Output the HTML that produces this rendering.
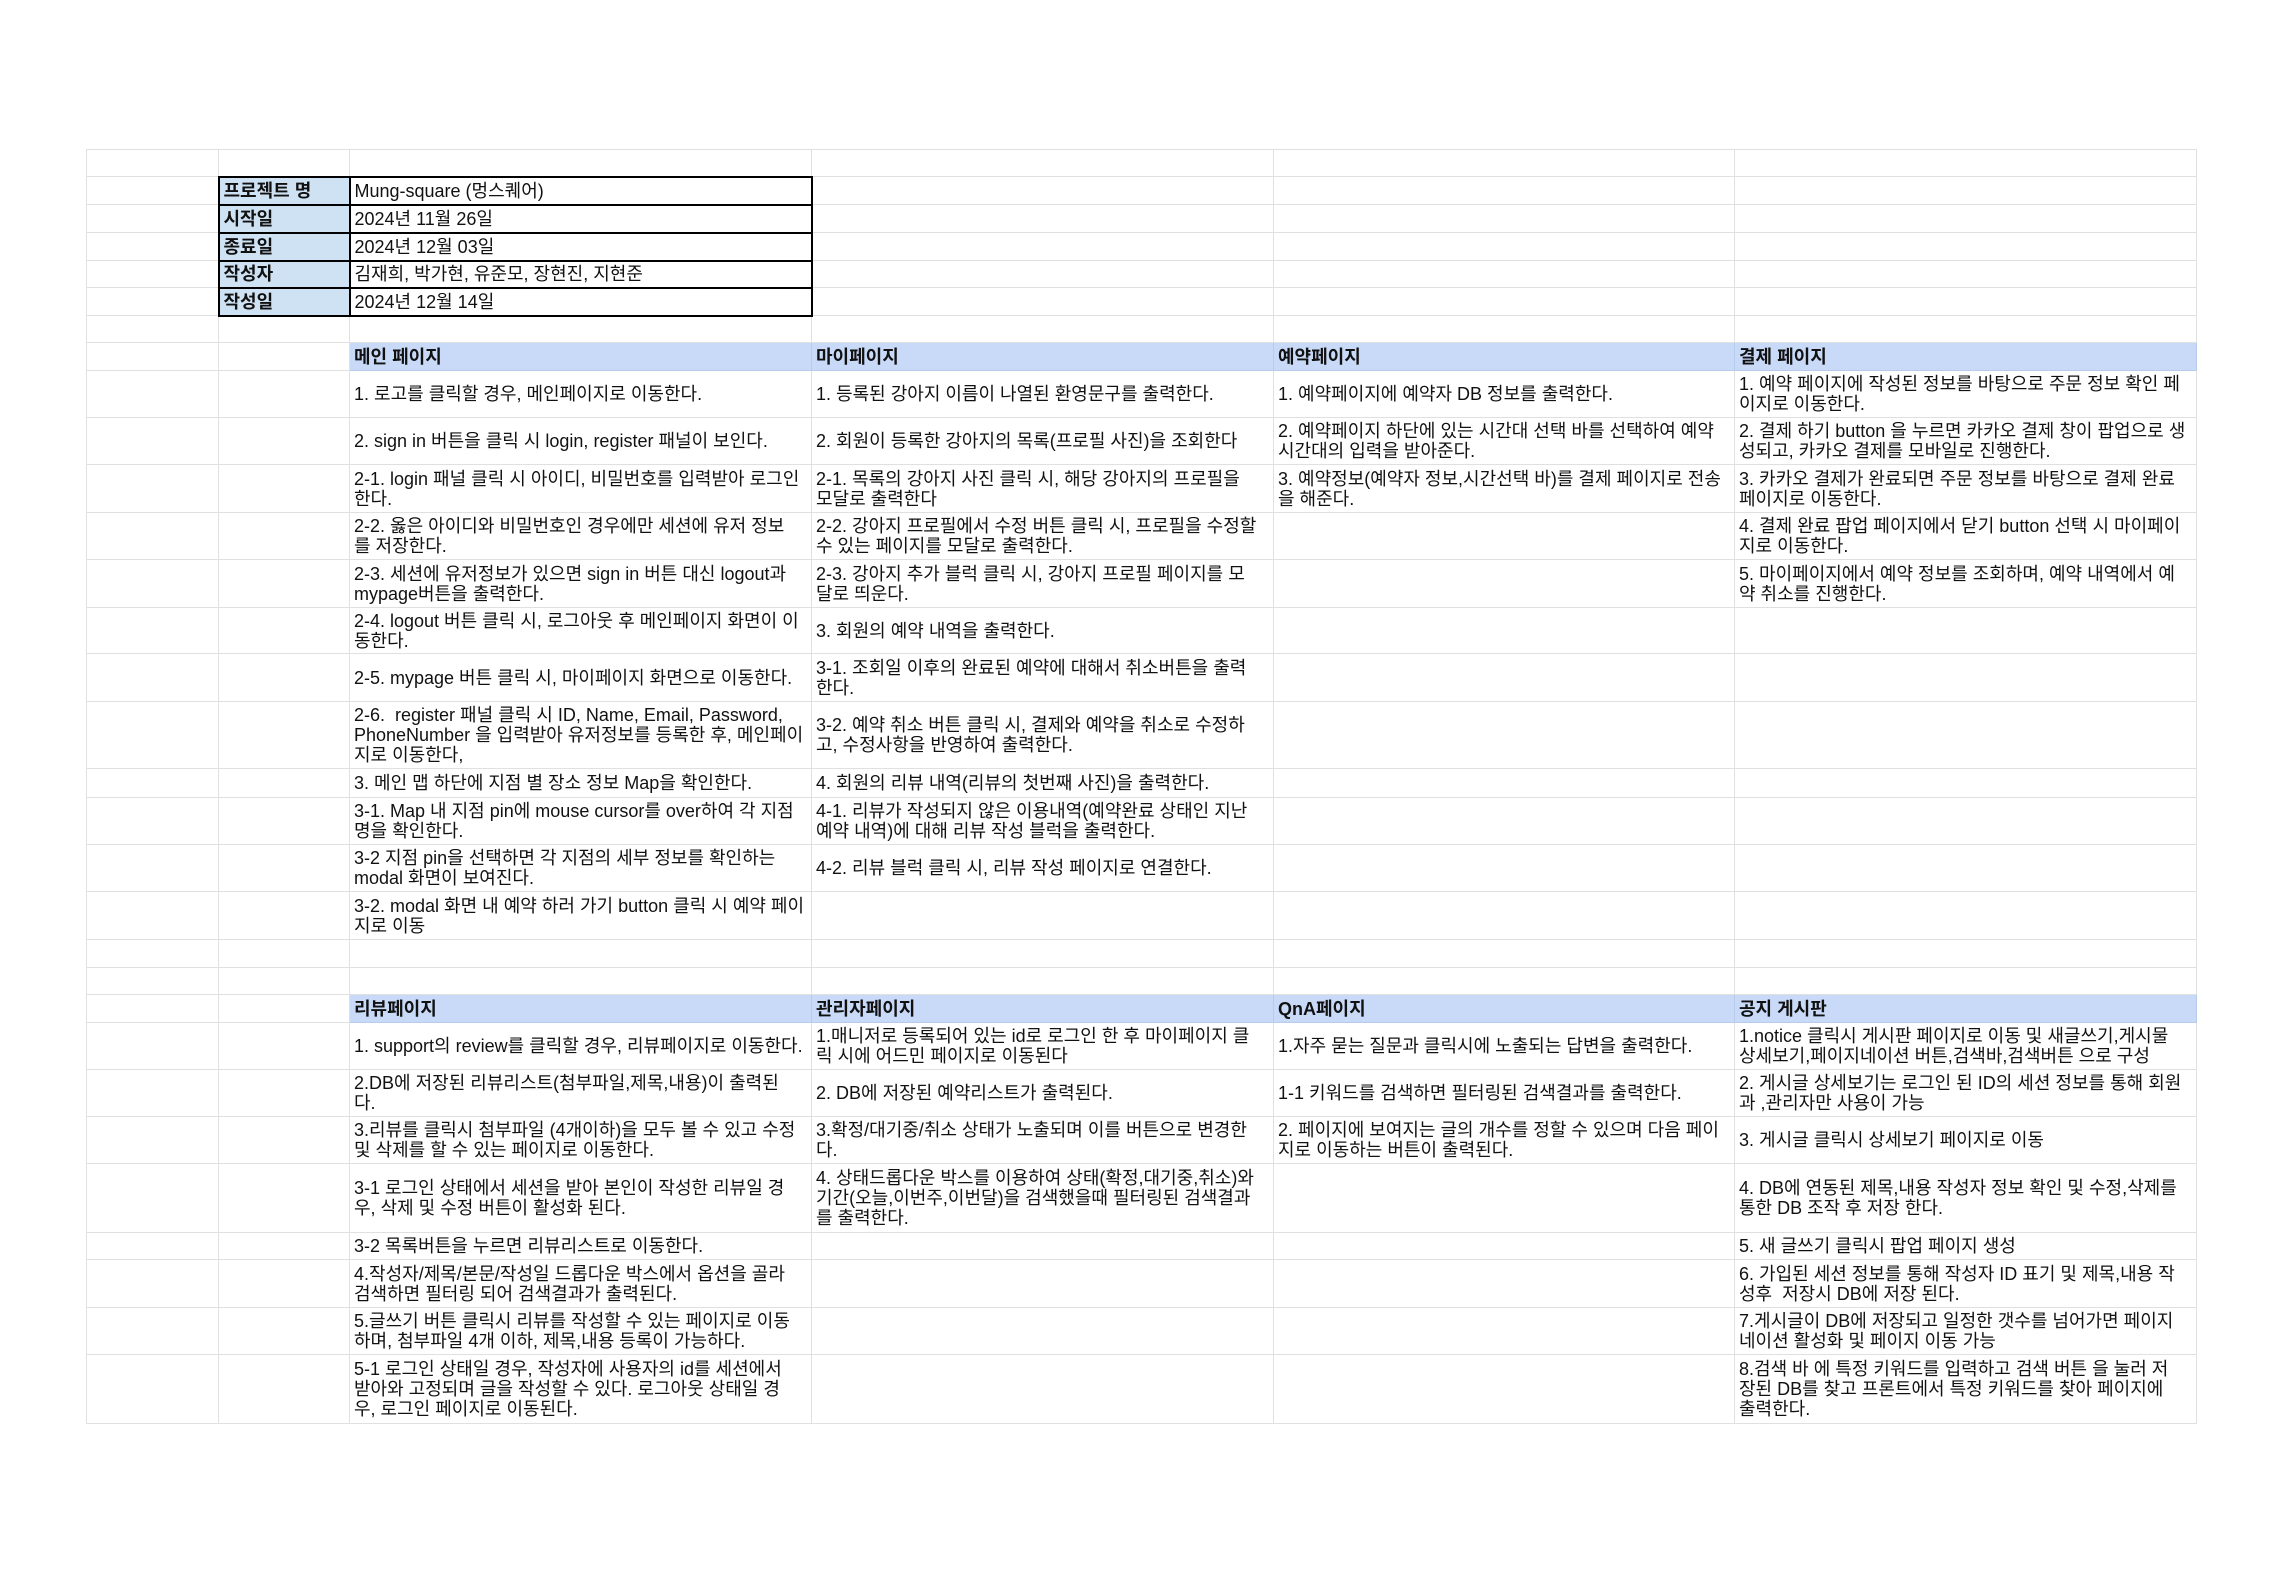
<!DOCTYPE html>
<html><head><meta charset="utf-8">
<style>
html,body{margin:0;padding:0;background:#fff;}
body{width:2284px;height:1573px;position:relative;overflow:hidden;}
table{position:absolute;left:86px;top:149px;width:2110px;border-collapse:collapse;table-layout:fixed;
 font-family:"Liberation Sans","Noto Sans CJK KR",sans-serif;font-size:18px;line-height:20px;color:#111;}
td{border:1px solid #e0e0e0;padding:0 4px;white-space:nowrap;overflow:hidden;vertical-align:middle;box-sizing:border-box;}
td.l{background:#cfe2f3;font-weight:bold;border:2px solid #000;}
td.v{border:2px solid #000;}
td.h{background:#c9daf8;font-weight:bold;border-color:#b7cbea;}
</style></head><body>
<table>
<colgroup><col style="width:132px"><col style="width:131px"><col style="width:462px"><col style="width:462px"><col style="width:461px"><col style="width:462px"></colgroup>
<tr style="height:27px"><td></td><td></td><td></td><td></td><td></td><td></td></tr>
<tr style="height:28px"><td></td><td class="l">프로젝트 명</td><td class="v">Mung-square (멍스퀘어)</td><td></td><td></td><td></td></tr>
<tr style="height:28px"><td></td><td class="l">시작일</td><td class="v">2024년 11월 26일</td><td></td><td></td><td></td></tr>
<tr style="height:28px"><td></td><td class="l">종료일</td><td class="v">2024년 12월 03일</td><td></td><td></td><td></td></tr>
<tr style="height:27px"><td></td><td class="l">작성자</td><td class="v">김재희, 박가현, 유준모, 장현진, 지현준</td><td></td><td></td><td></td></tr>
<tr style="height:28px"><td></td><td class="l">작성일</td><td class="v">2024년 12월 14일</td><td></td><td></td><td></td></tr>
<tr style="height:27px"><td></td><td></td><td></td><td></td><td></td><td></td></tr>
<tr style="height:28px"><td></td><td></td><td class="h">메인 페이지</td><td class="h">마이페이지</td><td class="h">예약페이지</td><td class="h">결제 페이지</td></tr>
<tr style="height:47px"><td></td><td></td><td>1. 로고를 클릭할 경우, 메인페이지로 이동한다.</td><td>1. 등록된 강아지 이름이 나열된 환영문구를 출력한다.</td><td>1. 예약페이지에 예약자 DB 정보를 출력한다.</td><td>1. 예약 페이지에 작성된 정보를 바탕으로 주문 정보 확인 페<br>이지로 이동한다.</td></tr>
<tr style="height:47px"><td></td><td></td><td>2. sign in 버튼을 클릭 시 login, register 패널이 보인다.</td><td>2. 회원이 등록한 강아지의 목록(프로필 사진)을 조회한다</td><td>2. 예약페이지 하단에 있는 시간대 선택 바를 선택하여 예약<br>시간대의 입력을 받아준다.</td><td>2. 결제 하기 button 을 누르면 카카오 결제 창이 팝업으로 생<br>성되고, 카카오 결제를 모바일로 진행한다.</td></tr>
<tr style="height:48px"><td></td><td></td><td>2-1. login 패널 클릭 시 아이디, 비밀번호를 입력받아 로그인<br>한다.</td><td>2-1. 목록의 강아지 사진 클릭 시, 해당 강아지의 프로필을<br>모달로 출력한다</td><td>3. 예약정보(예약자 정보,시간선택 바)를 결제 페이지로 전송<br>을 해준다.</td><td>3. 카카오 결제가 완료되면 주문 정보를 바탕으로 결제 완료<br>페이지로 이동한다.</td></tr>
<tr style="height:47px"><td></td><td></td><td>2-2. 옳은 아이디와 비밀번호인 경우에만 세션에 유저 정보<br>를 저장한다.</td><td>2-2. 강아지 프로필에서 수정 버튼 클릭 시, 프로필을 수정할<br>수 있는 페이지를 모달로 출력한다.</td><td></td><td>4. 결제 완료 팝업 페이지에서 닫기 button 선택 시 마이페이<br>지로 이동한다.</td></tr>
<tr style="height:48px"><td></td><td></td><td>2-3. 세션에 유저정보가 있으면 sign in 버튼 대신 logout과<br>mypage버튼을 출력한다.</td><td>2-3. 강아지 추가 블럭 클릭 시, 강아지 프로필 페이지를 모<br>달로 띄운다.</td><td></td><td>5. 마이페이지에서 예약 정보를 조회하며, 예약 내역에서 예<br>약 취소를 진행한다.</td></tr>
<tr style="height:46px"><td></td><td></td><td>2-4. logout 버튼 클릭 시, 로그아웃 후 메인페이지 화면이 이<br>동한다.</td><td>3. 회원의 예약 내역을 출력한다.</td><td></td><td></td></tr>
<tr style="height:48px"><td></td><td></td><td>2-5. mypage 버튼 클릭 시, 마이페이지 화면으로 이동한다.</td><td>3-1. 조회일 이후의 완료된 예약에 대해서 취소버튼을 출력<br>한다.</td><td></td><td></td></tr>
<tr style="height:67px"><td></td><td></td><td>2-6.&nbsp; register 패널 클릭 시 ID, Name, Email, Password,<br>PhoneNumber 을 입력받아 유저정보를 등록한 후, 메인페이<br>지로 이동한다,</td><td>3-2. 예약 취소 버튼 클릭 시, 결제와 예약을 취소로 수정하<br>고, 수정사항을 반영하여 출력한다.</td><td></td><td></td></tr>
<tr style="height:29px"><td></td><td></td><td>3. 메인 맵 하단에 지점 별 장소 정보 Map을 확인한다.</td><td>4. 회원의 리뷰 내역(리뷰의 첫번째 사진)을 출력한다.</td><td></td><td></td></tr>
<tr style="height:47px"><td></td><td></td><td>3-1. Map 내 지점 pin에 mouse cursor를 over하여 각 지점<br>명을 확인한다.</td><td>4-1. 리뷰가 작성되지 않은 이용내역(예약완료 상태인 지난<br>예약 내역)에 대해 리뷰 작성 블럭을 출력한다.</td><td></td><td></td></tr>
<tr style="height:47px"><td></td><td></td><td>3-2 지점 pin을 선택하면 각 지점의 세부 정보를 확인하는<br>modal 화면이 보여진다.</td><td>4-2. 리뷰 블럭 클릭 시, 리뷰 작성 페이지로 연결한다.</td><td></td><td></td></tr>
<tr style="height:48px"><td></td><td></td><td>3-2. modal 화면 내 예약 하러 가기 button 클릭 시 예약 페이<br>지로 이동</td><td></td><td></td><td></td></tr>
<tr style="height:28px"><td></td><td></td><td></td><td></td><td></td><td></td></tr>
<tr style="height:27px"><td></td><td></td><td></td><td></td><td></td><td></td></tr>
<tr style="height:28px"><td></td><td></td><td class="h">리뷰페이지</td><td class="h">관리자페이지</td><td class="h">QnA페이지</td><td class="h">공지 게시판</td></tr>
<tr style="height:47px"><td></td><td></td><td>1. support의 review를 클릭할 경우, 리뷰페이지로 이동한다.</td><td>1.매니저로 등록되어 있는 id로 로그인 한 후 마이페이지 클<br>릭 시에 어드민 페이지로 이동된다</td><td>1.자주 묻는 질문과 클릭시에 노출되는 답변을 출력한다.</td><td>1.notice 클릭시 게시판 페이지로 이동 및 새글쓰기,게시물<br>상세보기,페이지네이션 버튼,검색바,검색버튼 으로 구성</td></tr>
<tr style="height:47px"><td></td><td></td><td>2.DB에 저장된 리뷰리스트(첨부파일,제목,내용)이 출력된<br>다.</td><td>2. DB에 저장된 예약리스트가 출력된다.</td><td>1-1 키워드를 검색하면 필터링된 검색결과를 출력한다.</td><td>2. 게시글 상세보기는 로그인 된 ID의 세션 정보를 통해 회원<br>과 ,관리자만 사용이 가능</td></tr>
<tr style="height:47px"><td></td><td></td><td>3.리뷰를 클릭시 첨부파일 (4개이하)을 모두 볼 수 있고 수정<br>및 삭제를 할 수 있는 페이지로 이동한다.</td><td>3.확정/대기중/취소 상태가 노출되며 이를 버튼으로 변경한<br>다.</td><td>2. 페이지에 보여지는 글의 개수를 정할 수 있으며 다음 페이<br>지로 이동하는 버튼이 출력된다.</td><td>3. 게시글 클릭시 상세보기 페이지로 이동</td></tr>
<tr style="height:69px"><td></td><td></td><td>3-1 로그인 상태에서 세션을 받아 본인이 작성한 리뷰일 경<br>우, 삭제 및 수정 버튼이 활성화 된다.</td><td>4. 상태드롭다운 박스를 이용하여 상태(확정,대기중,취소)와<br>기간(오늘,이번주,이번달)을 검색했을때 필터링된 검색결과<br>를 출력한다.</td><td></td><td>4. DB에 연동된 제목,내용 작성자 정보 확인 및 수정,삭제를<br>통한 DB 조작 후 저장 한다.</td></tr>
<tr style="height:27px"><td></td><td></td><td>3-2 목록버튼을 누르면 리뷰리스트로 이동한다.</td><td></td><td></td><td>5. 새 글쓰기 클릭시 팝업 페이지 생성</td></tr>
<tr style="height:48px"><td></td><td></td><td>4.작성자/제목/본문/작성일 드롭다운 박스에서 옵션을 골라<br>검색하면 필터링 되어 검색결과가 출력된다.</td><td></td><td></td><td>6. 가입된 세션 정보를 통해 작성자 ID 표기 및 제목,내용 작<br>성후&nbsp; 저장시 DB에 저장 된다.</td></tr>
<tr style="height:47px"><td></td><td></td><td>5.글쓰기 버튼 클릭시 리뷰를 작성할 수 있는 페이지로 이동<br>하며, 첨부파일 4개 이하, 제목,내용 등록이 가능하다.</td><td></td><td></td><td>7.게시글이 DB에 저장되고 일정한 갯수를 넘어가면 페이지<br>네이션 활성화 및 페이지 이동 가능</td></tr>
<tr style="height:69px"><td></td><td></td><td>5-1 로그인 상태일 경우, 작성자에 사용자의 id를 세션에서<br>받아와 고정되며 글을 작성할 수 있다. 로그아웃 상태일 경<br>우, 로그인 페이지로 이동된다.</td><td></td><td></td><td>8.검색 바 에 특정 키워드를 입력하고 검색 버튼 을 눌러 저<br>장된 DB를 찾고 프론트에서 특정 키워드를 찾아 페이지에<br>출력한다.</td></tr>
</table>
</body></html>
